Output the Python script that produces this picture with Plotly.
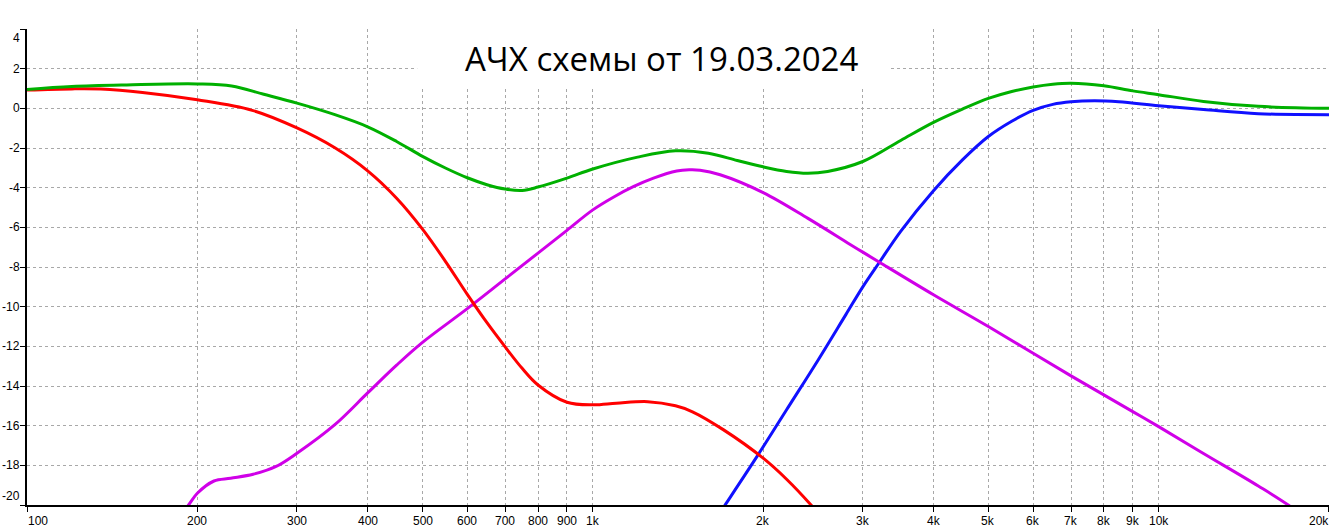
import math
import plotly.graph_objects as go

# ---- data (frequency in Hz, level in dB) ----
freq_green = [100, 120, 150, 200, 230, 262, 300, 350, 400, 450, 500, 550, 600, 650, 700, 750,
              800, 900, 1000, 1200, 1400, 1600, 1800, 2000, 2200, 2400, 2600, 3000, 3500, 4000,
              4500, 5000, 5500, 6000, 6500, 7000, 8000, 9000, 10000, 12000, 15000, 20000]
db_green = [0.95, 1.1, 1.18, 1.23, 1.13, 0.71, 0.26, -0.32, -0.93, -1.67, -2.42, -3.02, -3.5,
            -3.85, -4.07, -4.14, -3.97, -3.52, -3.06, -2.46, -2.14, -2.26, -2.63, -2.95, -3.18,
            -3.27, -3.18, -2.68, -1.62, -0.71, -0.04, 0.5, 0.85, 1.08, 1.22, 1.27, 1.14, 0.88,
            0.69, 0.35, 0.1, 0.0]

freq_red = [100, 120, 135, 160, 200, 250, 300, 350, 400, 450, 500, 550, 600, 650, 700, 750, 800,
            900, 1000, 1100, 1250, 1400, 1500, 1700, 2000, 2200, 2430, 2600]
db_red = [0.92, 0.98, 0.97, 0.8, 0.43, -0.1, -0.99, -1.99, -3.15, -4.53, -6.09, -7.75, -9.38,
          -10.81, -12.03, -13.11, -13.95, -14.82, -14.95, -14.87, -14.79, -15.0, -15.3, -16.2,
          -17.64, -18.7, -20.0, -21.0]

freq_mag = [188, 193, 200, 214, 229, 251, 275, 300, 350, 400, 450, 500, 600, 700, 800, 900, 1000,
            1087, 1179, 1280, 1407, 1480, 1547, 1679, 2000, 2400, 2845, 3000, 3210, 4000, 5000,
            6000, 7000, 8000, 9000, 10000, 12000, 15000, 16940, 18000]
db_mag = [-20.4, -20.0, -19.41, -18.79, -18.65, -18.45, -18.07, -17.39, -15.95, -14.35, -12.95,
          -11.8, -10.1, -8.6, -7.3, -6.15, -5.12, -4.48, -3.95, -3.52, -3.16, -3.1, -3.12, -3.35,
          -4.25, -5.55, -6.85, -7.25, -7.76, -9.4, -11.0, -12.35, -13.49, -14.45, -15.29, -16.05,
          -17.4, -19.04, -20.0, -20.6]

freq_blue = [1650, 1713, 1956, 2200, 2500, 2800, 3000, 3210, 3500, 4000, 4500, 5000, 5500, 6000,
             6500, 7000, 7700, 8500, 10000, 12000, 15000, 20000]
db_blue = [-20.7, -20.0, -17.5, -15.2, -12.7, -10.4, -9.0, -7.76, -6.2, -4.15, -2.6, -1.42, -0.65,
           -0.1, 0.2, 0.33, 0.38, 0.33, 0.13, -0.06, -0.27, -0.32]

x_tickvals = [100, 200, 300, 400, 500, 600, 700, 800, 900, 1000, 2000, 3000, 4000, 5000, 6000,
              7000, 8000, 9000, 10000, 20000]
x_ticktext = ["100", "200", "300", "400", "500", "600", "700", "800", "900", "1k", "2k", "3k",
              "4k", "5k", "6k", "7k", "8k", "9k", "10k", "20k"]
y_tickvals = [-20, -18, -16, -14, -12, -10, -8, -6, -4, -2, 0, 2, 4]
title_text = "АЧХ схемы от 19.03.2024"

fig = go.Figure()
series = [
    (freq_blue, db_blue, "rgb(16,16,255)"),
    (freq_mag, db_mag, "rgb(208,0,232)"),
    (freq_red, db_red, "rgb(255,0,0)"),
    (freq_green, db_green, "rgb(0,176,0)"),
]
for fx, fy, col in series:
    fig.add_trace(go.Scatter(x=fx, y=fy, mode="lines",
                             line=dict(color=col, width=3, shape="spline", smoothing=1.0),
                             hoverinfo="skip", showlegend=False))

grid = dict(showgrid=True, gridcolor="#a8a8a8", griddash="3px,3px", gridwidth=1,
            showline=True, linecolor="black", linewidth=2, ticks="outside", ticklen=5,
            tickcolor="black", tickwidth=1, showticklabels=False, zeroline=False,
            fixedrange=True, automargin=False)
fig.update_xaxes(type="log", range=[2, 4.30104], tickvals=x_tickvals, **grid)
fig.update_yaxes(range=[-20, 4], tickvals=y_tickvals, **grid)

tick_font = dict(family="Liberation Sans, Arial", size=12, color="black")
# x tick labels (edge labels kept inside the picture, as in the reference)
for i, (v, t) in enumerate(zip(x_tickvals, x_ticktext)):
    anchor = "left" if i == 0 else ("right" if i == len(x_tickvals) - 1 else "center")
    fig.add_annotation(x=math.log10(v), y=0, xref="x", yref="paper", text=t, showarrow=False,
                       xanchor=anchor, yanchor="top", yshift=-7, font=tick_font,
                       xshift=(-1 if anchor == "left" else (2 if anchor == "right" else 0)))
# y tick labels
for v in y_tickvals:
    anchor = "top" if v == y_tickvals[-1] else ("bottom" if v == y_tickvals[0] else "middle")
    fig.add_annotation(x=0, y=v, xref="paper", yref="y", text=str(v), showarrow=False,
                       xanchor="right", yanchor=anchor, xshift=-5, font=tick_font)

# white background block behind the title
fig.add_shape(type="rect", xref="x", yref="y", x0=489.3, x1=3352, y0=0.99, y1=4.2,
              fillcolor="white", line=dict(width=0), layer="between")

fig.add_annotation(text=title_text, xref="paper", yref="paper", x=0.487, y=0.939,
                   xanchor="center", yanchor="middle", showarrow=False,
                   font=dict(family="Open Sans, Noto Sans", size=33, color="black"))

fig.update_layout(width=1332, height=531, margin=dict(l=27, r=3, t=29, b=26),
                  plot_bgcolor="white", paper_bgcolor="white")

fig.write_html("out.html", config={"displayModeBar": False},
               post_script="document.body.style.margin='0';")
